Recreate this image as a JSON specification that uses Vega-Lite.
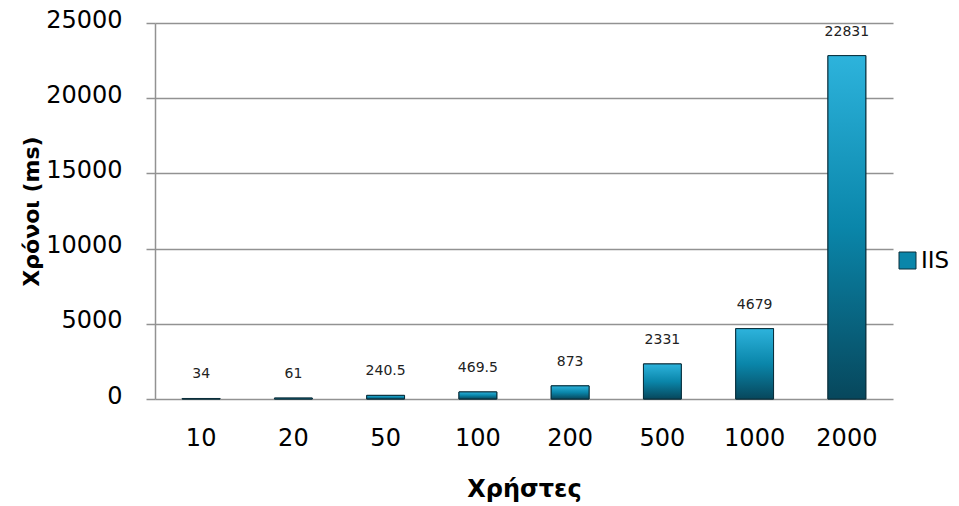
{
  "$schema": "https://vega.github.io/schema/vega-lite/v6.json",
  "width": 738,
  "height": 376,
  "autosize": {"type": "none"},
  "padding": {"left": 155, "top": 23, "right": 66, "bottom": 107},
  "background": "white",
  "config": {"view": {"stroke": null}, "font": "DejaVu Sans"},
  "data": {
    "values": [
      {"users": "10", "time": 34, "series": "IIS"},
      {"users": "20", "time": 61, "series": "IIS"},
      {"users": "50", "time": 240.5, "series": "IIS"},
      {"users": "100", "time": 469.5, "series": "IIS"},
      {"users": "200", "time": 873, "series": "IIS"},
      {"users": "500", "time": 2331, "series": "IIS"},
      {"users": "1000", "time": 4679, "series": "IIS"},
      {"users": "2000", "time": 22831, "series": "IIS"}
    ]
  },
  "encoding": {
    "x": {
      "field": "users",
      "type": "ordinal",
      "sort": null,
      "scale": {"paddingInner": 0, "paddingOuter": 0},
      "axis": {
        "title": "Χρήστες",
        "titleFontSize": 24,
        "titleFontWeight": "bold",
        "titleColor": "black",
        "titleY": 97,
        "titleBaseline": "alphabetic",
        "labelAngle": 0,
        "labelFontSize": 24,
        "labelColor": "black",
        "labelFontWeight": "normal",
        "labelBaseline": "middle",
        "labelPadding": 39,
        "ticks": false,
        "domain": false
      }
    }
  },
  "layer": [
    {
      "mark": {
        "type": "bar",
        "width": {"band": 0.41},
        "stroke": "#0b2f3b",
        "strokeWidth": 1
      },
      "encoding": {
        "y": {
          "field": "time",
          "type": "quantitative",
          "scale": {"domain": [0, 25000], "nice": false},
          "axis": {
            "title": "Χρόνοι (ms)",
            "titleFontSize": 22,
            "titleFontWeight": "bold",
            "titleColor": "black",
            "titleX": -124,
            "titleY": 188,
            "titleAlign": "center",
            "titleBaseline": "middle",
            "values": [0, 5000, 10000, 15000, 20000, 25000],
            "format": "d",
            "labelFontSize": 24,
            "labelColor": "black",
            "labelPadding": 24,
            "labelOffset": -3,
            "tickSize": 9,
            "tickColor": "#929292",
            "tickWidth": 1.5,
            "domainColor": "#929292",
            "domainWidth": 1.5,
            "grid": true,
            "gridColor": "#929292",
            "gridWidth": 1.5
          }
        },
        "color": {
          "field": "series",
          "type": "nominal",
          "scale": {"range": ["#0a86aa"]},
          "legend": {
            "title": null,
            "orient": "none",
            "legendX": 741,
            "legendY": 226,
            "padding": 0,
            "symbolType": "square",
            "symbolSize": 289,
            "symbolStrokeColor": "#0b2f3b",
            "symbolStrokeWidth": 1,
            "labelFontSize": 23,
            "labelColor": "black",
            "labelOffset": 2
          }
        }
      }
    },
    {
      "mark": {
        "type": "bar",
        "width": {"band": 0.41},
        "stroke": "#0b2f3b",
        "strokeWidth": 1,
        "color": {
          "gradient": "linear",
          "x1": 0, "y1": 0, "x2": 0, "y2": 1,
          "stops": [
            {"offset": 0, "color": "#2db3dc"},
            {"offset": 0.5, "color": "#0a86aa"},
            {"offset": 1, "color": "#07475c"}
          ]
        }
      },
      "encoding": {
        "y": {"field": "time", "type": "quantitative"}
      }
    },
    {
      "mark": {"type": "text", "baseline": "middle", "dy": -24, "fontSize": 14, "color": "#222222"},
      "encoding": {
        "y": {"field": "time", "type": "quantitative"},
        "text": {"field": "time", "type": "nominal"}
      }
    }
  ]
}
